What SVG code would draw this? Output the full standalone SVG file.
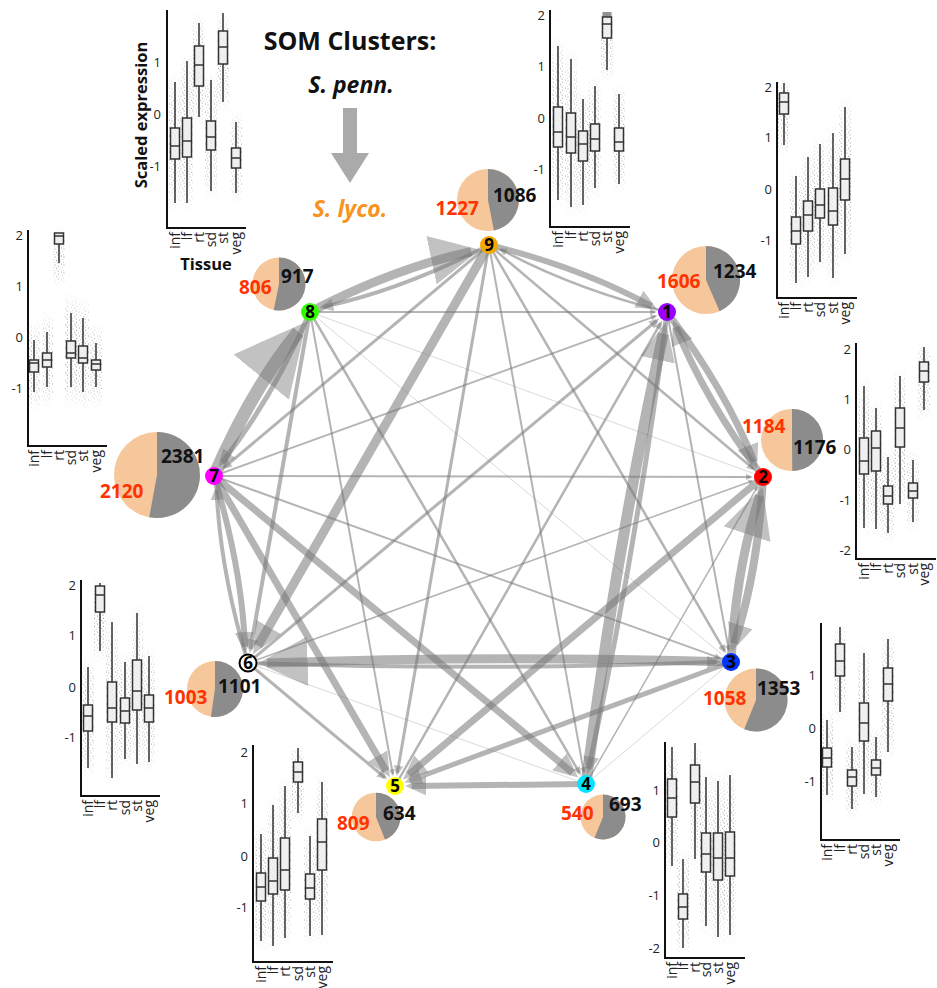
<svg xmlns="http://www.w3.org/2000/svg" width="937" height="988" viewBox="0 0 937 988">
<defs>
<style>
.e{fill:none;stroke:#777;stroke-opacity:.55}
.el{fill:none;stroke:#777;stroke-opacity:.28}
.ax{fill:none;stroke:#111;stroke-width:2}
.bx{fill:#eee;fill-opacity:.8;stroke:#333;stroke-width:1.5}
.wk{fill:none;stroke:#333;stroke-width:1.5}
.jt{fill:url(#jit);mask:url(#fade)}
.tk{font-family:"Open Sans","Liberation Sans",sans-serif;font-size:13px;fill:#222;text-anchor:end}
.xl{font-family:"Open Sans","Liberation Sans",sans-serif;font-size:14px;fill:#222;text-anchor:end}
.pk{fill:#F7C79C}
.pg{fill:#8C8C8C}
.nr{font-family:"Open Sans","Liberation Sans",sans-serif;font-weight:bold;font-size:19px;fill:#FF3300}
.nb{font-family:"Open Sans","Liberation Sans",sans-serif;font-weight:bold;font-size:19px;fill:#111}
.nl{font-family:"Open Sans","Liberation Sans",sans-serif;font-weight:bold;font-size:17px;fill:#000;text-anchor:middle}
.tt{font-family:"Open Sans","Liberation Sans",sans-serif;font-weight:bold;fill:#111;text-anchor:middle}
</style>
<pattern id="jit" width="9" height="8" patternUnits="userSpaceOnUse">
<circle cx="1" cy="1" r="0.5" fill="#444"/><circle cx="4.5" cy="2.2" r="0.5" fill="#444"/><circle cx="7.6" cy="0.6" r="0.45" fill="#444"/><circle cx="2.7" cy="4.3" r="0.5" fill="#444"/><circle cx="6.2" cy="4.9" r="0.45" fill="#444"/><circle cx="8.4" cy="3.4" r="0.4" fill="#444"/><circle cx="0.6" cy="6.6" r="0.45" fill="#444"/><circle cx="4.2" cy="7.1" r="0.5" fill="#444"/><circle cx="7.3" cy="7.4" r="0.4" fill="#444"/><circle cx="3.3" cy="5.9" r="0.35" fill="#444"/>
</pattern>
<linearGradient id="fg" x1="0" y1="0" x2="0" y2="1"><stop offset="0" stop-color="#fff" stop-opacity="0"/><stop offset=".2" stop-color="#fff" stop-opacity=".55"/><stop offset=".5" stop-color="#fff" stop-opacity=".8"/><stop offset=".8" stop-color="#fff" stop-opacity=".55"/><stop offset="1" stop-color="#fff" stop-opacity="0"/></linearGradient>
<mask id="fade" maskContentUnits="objectBoundingBox"><rect width="1" height="1" fill="url(#fg)"/></mask>
<marker id="ah" viewBox="0 0 10 10" refX="6.9" refY="5" markerWidth="3.5" markerHeight="3.2" preserveAspectRatio="none" orient="auto" markerUnits="strokeWidth"><path d="M0,0L10,5L0,10z" fill="#777" fill-opacity=".45"/></marker>
<marker id="ab" viewBox="0 0 10 10" refX="8.2" refY="5" markerWidth="5.5" markerHeight="5.5" preserveAspectRatio="none" orient="auto" markerUnits="strokeWidth"><path d="M0,0L10,5L0,10z" fill="#777" fill-opacity=".45"/></marker>
</defs>
<rect width="937" height="988" fill="#fff"/>

<g id="title">
<text class="tt" x="350" y="50" font-size="25">SOM Clusters:</text>
<text class="tt" x="351" y="93" font-size="23" font-style="italic">S. penn.</text>
<path d="M343,108H357V153H369L350,183L331,153H343Z" fill="#aaa"/>
<text class="tt" x="350" y="217" font-size="23" font-style="italic" style="fill:#F7931E">S. lyco.</text>
</g>

<g id="connectors">
<path class="e" stroke-width="9" marker-end="url(#ab)" d="M310,312Q395.5,267.7 471.2,251.7"/>
<path class="e" stroke-width="4" marker-end="url(#ah)" d="M489,245Q403.5,289.3 323.5,306.9"/>
<path class="e" stroke-width="6" marker-end="url(#ah)" d="M489,245Q582,267.8 651.5,306.2"/>
<path class="e" stroke-width="2.5" marker-end="url(#ah)" d="M667,312Q574,289.2 500.9,249.5"/>
<path class="e" stroke-width="2" marker-end="url(#ah)" d="M310,312L654.8,312"/>
<path class="e" stroke-width="13" marker-end="url(#ab)" d="M214,476Q252.2,388.2 298.4,331.8"/>
<path class="e" stroke-width="5" marker-end="url(#ah)" d="M310,312Q271.8,399.8 221.8,462.6"/>
<path class="e" stroke-width="7" marker-end="url(#ah)" d="M667,312Q724.9,388.7 754.1,461.7"/>
<path class="e" stroke-width="7" marker-end="url(#ah)" d="M763,477Q705.1,400.3 675.9,327.3"/>
<path class="e" stroke-width="8" marker-end="url(#ah)" d="M763,477Q758.1,571.4 734.2,643.5"/>
<path class="e" stroke-width="9" marker-end="url(#ab)" d="M731,662Q735.9,567.6 759.8,495.7"/>
<path class="e" stroke-width="9" marker-end="url(#ab)" d="M731,662Q489.5,655 267,663"/>
<path class="e" stroke-width="4" marker-end="url(#ah)" d="M248,663Q489.5,671 716.6,662"/>
<path class="e" stroke-width="6" marker-end="url(#ah)" d="M586,784L411.6,786"/>
<path class="e" stroke-width="11" marker-end="url(#ah)" d="M586,784Q616.6,546.3 663.3,333.8"/>
<path class="e" stroke-width="5" marker-end="url(#ah)" d="M667,312Q636.4,549.7 588.6,768.7"/>
<path class="e" stroke-width="7" marker-end="url(#ah)" d="M763,477L408.6,774.6"/>
<path class="e" stroke-width="5" marker-end="url(#ah)" d="M731,662L409.5,780.6"/>
<path class="e" stroke-width="7" marker-end="url(#ah)" d="M214,476L572.4,772.7"/>
<path class="e" stroke-width="7" marker-end="url(#ah)" d="M214,476L386.1,770.7"/>
<path class="e" stroke-width="9" marker-end="url(#ah)" d="M489,245L257.9,645.8"/>
<path class="e" stroke-width="6" marker-end="url(#ah)" d="M214,476Q241.8,567.5 245,646.7"/>
<path class="e" stroke-width="4" marker-end="url(#ah)" d="M248,663Q220.2,571.5 216.6,490.2"/>
<path class="e" stroke-width="4" marker-end="url(#ah)" d="M310,312L250.5,648.8"/>
<path class="e" stroke-width="3" marker-end="url(#ah)" d="M489,245L397.3,772.9"/>
<path class="e" stroke-width="2" marker-end="url(#ah)" d="M489,245L583.8,772"/>
<path class="e" stroke-width="2.5" marker-end="url(#ah)" d="M489,245L724.6,651"/>
<path class="e" stroke-width="2.5" marker-end="url(#ah)" d="M489,245L753.3,468.8"/>
<path class="e" stroke-width="3" marker-end="url(#ah)" d="M489,245L224.2,467.4"/>
<path class="e" stroke-width="2" marker-end="url(#ah)" d="M310,312L392.8,774"/>
<path class="e" stroke-width="2.5" marker-end="url(#ah)" d="M310,312L579.6,773"/>
<path class="el" stroke-width="1" d="M310,312L722.5,655"/>
<path class="el" stroke-width="1" d="M310,312L752.7,473.2"/>
<path class="e" stroke-width="2" marker-end="url(#ah)" d="M214,476L655.5,316.1"/>
<path class="e" stroke-width="2" marker-end="url(#ah)" d="M214,476L750.8,477"/>
<path class="e" stroke-width="2" marker-end="url(#ah)" d="M214,476L719.5,657.9"/>
<path class="e" stroke-width="3" marker-end="url(#ah)" d="M248,663L656.8,320.5"/>
<path class="e" stroke-width="1.5" marker-end="url(#ah)" d="M248,663L752,481"/>
<path class="el" stroke-width="1" d="M248,663L575.6,780.3"/>
<path class="e" stroke-width="3" marker-end="url(#ah)" d="M248,663L384.8,777.5"/>
<path class="e" stroke-width="2.5" marker-end="url(#ah)" d="M395,786L660.7,323.1"/>
<path class="e" stroke-width="2" marker-end="url(#ah)" d="M667,312L728.8,650"/>
<path class="e" stroke-width="1.5" marker-end="url(#ah)" d="M586,784L757.2,487.1"/>
<path class="el" stroke-width="1" d="M586,784L722.6,669.1"/>
</g>

<g id="node-8">
<g id="panel-8">
<rect class="jt" x="169" y="70" width="12" height="145"/><rect class="jt" x="181" y="49" width="12" height="166"/><rect class="jt" x="193" y="11" width="12" height="118"/><rect class="jt" x="205" y="68" width="12" height="135"/><rect class="jt" x="217" y="9" width="12" height="105"/><rect class="jt" x="230" y="110" width="12" height="95"/>
<rect class="bx" x="170.5" y="128" width="9" height="31"/><path class="wk" d="M175,82V128M175,159V203M170.5,146h9"/>
<rect class="bx" x="182.5" y="118" width="9" height="39"/><path class="wk" d="M187,61V118M187,157V203M182.5,141h9"/>
<rect class="bx" x="194.5" y="46" width="9" height="40"/><path class="wk" d="M199,23V46M199,86V117M194.5,65h9"/>
<rect class="bx" x="206.5" y="121" width="9" height="29"/><path class="wk" d="M211,80V121M211,150V191M206.5,137h9"/>
<rect class="bx" x="218.5" y="31" width="9" height="33"/><path class="wk" d="M223,13V31M223,64V102M218.5,47h9"/>
<rect class="bx" x="231.5" y="148" width="9" height="20"/><path class="wk" d="M236,122V148M236,168V193M231.5,158h9"/>
<path class="ax" d="M167,10V228H246"/>
<text class="tk" x="161" y="66.5">1</text><text class="tk" x="161" y="118.5">0</text><text class="tk" x="161" y="170.5">-1</text>
<text class="xl" transform="translate(179.5,232) rotate(-90)">inf</text><text class="xl" transform="translate(191.5,232) rotate(-90)">lf</text><text class="xl" transform="translate(203.5,232) rotate(-90)">rt</text><text class="xl" transform="translate(215.5,232) rotate(-90)">sd</text><text class="xl" transform="translate(227.5,232) rotate(-90)">st</text><text class="xl" transform="translate(240.5,232) rotate(-90)">veg</text>
<text class="tt" font-size="16.5" transform="translate(147,115) rotate(-90)">Scaled expression</text>
<text class="tt" x="206" y="270" font-size="16.5">Tissue</text>
</g>
<circle class="pk" cx="279" cy="284" r="26.6"/><path class="pg" d="M279,284L279,257.4A26.6,26.6 0 1 1 273.7,310.1Z"/>
<text class="nr" x="239" y="294">806</text><text class="nb" x="281" y="283">917</text>
<circle cx="310" cy="312" r="9" fill="#33FF00"/><text class="nl" x="310" y="318">8</text>
</g>

<g id="node-7">
<g id="panel-7">
<rect class="jt" x="28" y="318" width="12" height="96"/><rect class="jt" x="41" y="310" width="12" height="99"/><rect class="jt" x="53" y="227" width="12" height="60"/><rect class="jt" x="65" y="291" width="12" height="118"/><rect class="jt" x="77" y="296" width="12" height="118"/><rect class="jt" x="90" y="321" width="12" height="88"/>
<rect class="bx" x="29.5" y="360" width="9" height="12"/><path class="wk" d="M34,340V360M34,372V392M29.5,363h9"/>
<rect class="bx" x="42.5" y="353" width="9" height="14"/><path class="wk" d="M47,332V353M47,367V387M42.5,360h9"/>
<rect class="bx" x="54.5" y="233" width="9" height="11"/><path class="wk" d="M59,244V263M54.5,236h9"/>
<rect class="bx" x="66.5" y="341" width="9" height="17"/><path class="wk" d="M71,313V341M71,358V387M66.5,353h9"/>
<rect class="bx" x="78.5" y="346" width="9" height="17"/><path class="wk" d="M83,318V346M83,363V392M78.5,358h9"/>
<rect class="bx" x="91.5" y="360" width="9" height="10"/><path class="wk" d="M96,343V360M96,370V387M91.5,364h9"/>
<path class="ax" d="M28,230V446H107"/>
<text class="tk" x="23" y="239.5">2</text><text class="tk" x="23" y="290.5">1</text><text class="tk" x="23" y="341.5">0</text><text class="tk" x="23" y="392.5">-1</text>
<text class="xl" transform="translate(38.5,450) rotate(-90)">inf</text><text class="xl" transform="translate(51.5,450) rotate(-90)">lf</text><text class="xl" transform="translate(63.5,450) rotate(-90)">rt</text><text class="xl" transform="translate(75.5,450) rotate(-90)">sd</text><text class="xl" transform="translate(87.5,450) rotate(-90)">st</text><text class="xl" transform="translate(100.5,450) rotate(-90)">veg</text>
</g>
<circle class="pk" cx="157" cy="475" r="43"/><path class="pg" d="M157,475L157,432A43,43 0 1 1 149.2,517.3Z"/>
<text class="nr" x="100" y="498">2120</text><text class="nb" x="161" y="463">2381</text>
<circle cx="214" cy="476" r="9" fill="#FF00FF"/><text class="nl" x="214" y="482">7</text>
</g>

<g id="node-9">
<g id="panel-9">
<rect class="jt" x="552" y="34" width="12" height="178"/><rect class="jt" x="565" y="47" width="12" height="172"/><rect class="jt" x="577" y="87" width="12" height="130"/><rect class="jt" x="589" y="74" width="12" height="126"/><rect class="jt" x="601" y="7" width="12" height="75"/><rect class="jt" x="613" y="82" width="12" height="114"/>
<rect class="bx" x="553.5" y="107" width="9" height="40"/><path class="wk" d="M558,46V107M558,147V200M553.5,132h9"/>
<rect class="bx" x="566.5" y="113" width="9" height="40"/><path class="wk" d="M571,59V113M571,153V207M566.5,137h9"/>
<rect class="bx" x="578.5" y="131" width="9" height="30"/><path class="wk" d="M583,99V131M583,161V205M578.5,144h9"/>
<rect class="bx" x="590.5" y="124" width="9" height="27"/><path class="wk" d="M595,86V124M595,151V188M590.5,139h9"/>
<rect x="602.5" y="12" width="9" height="5" fill="#666" opacity=".7"/>
<rect class="bx" x="602.5" y="17" width="9" height="21"/><path class="wk" d="M607,38V70M602.5,24h9"/>
<rect class="bx" x="614.5" y="128" width="9" height="23"/><path class="wk" d="M619,94V128M619,151V184M614.5,142h9"/>
<path class="ax" d="M550,10V227H630"/>
<text class="tk" x="545" y="19.5">2</text><text class="tk" x="545" y="70.5">1</text><text class="tk" x="545" y="122.5">0</text><text class="tk" x="545" y="173.5">-1</text>
<text class="xl" transform="translate(562.5,231) rotate(-90)">inf</text><text class="xl" transform="translate(575.5,231) rotate(-90)">lf</text><text class="xl" transform="translate(587.5,231) rotate(-90)">rt</text><text class="xl" transform="translate(599.5,231) rotate(-90)">sd</text><text class="xl" transform="translate(611.5,231) rotate(-90)">st</text><text class="xl" transform="translate(623.5,231) rotate(-90)">veg</text>
</g>
<circle class="pk" cx="488" cy="200" r="31"/><path class="pg" d="M488,200L488,169A31,31 0 0 1 493.9,230.4Z"/>
<text class="nr" x="479" y="215" text-anchor="end">1227</text><text class="nb" x="493" y="202">1086</text>
<circle cx="489" cy="245" r="9" fill="#F5A800"/><text class="nl" x="489" y="251">9</text>
</g>

<g id="node-1">
<g id="panel-1">
<rect class="jt" x="778" y="77" width="12" height="80"/><rect class="jt" x="790" y="164" width="12" height="131"/><rect class="jt" x="802" y="145" width="12" height="144"/><rect class="jt" x="814" y="132" width="12" height="142"/><rect class="jt" x="827" y="121" width="12" height="169"/><rect class="jt" x="839" y="95" width="12" height="171"/>
<rect class="bx" x="779.5" y="93" width="9" height="21"/><path class="wk" d="M784,83V93M784,114V145M779.5,102h9"/>
<rect class="bx" x="791.5" y="217" width="9" height="27"/><path class="wk" d="M796,176V217M796,244V283M791.5,231h9"/>
<rect class="bx" x="803.5" y="201" width="9" height="30"/><path class="wk" d="M808,157V201M808,231V277M803.5,215h9"/>
<rect class="bx" x="815.5" y="189" width="9" height="29"/><path class="wk" d="M820,144V189M820,218V262M815.5,205h9"/>
<rect class="bx" x="828.5" y="188" width="9" height="37"/><path class="wk" d="M833,133V188M833,225V278M828.5,211h9"/>
<rect class="bx" x="840.5" y="159" width="9" height="41"/><path class="wk" d="M845,107V159M845,200V254M840.5,179h9"/>
<path class="ax" d="M777,82V298H857"/>
<text class="tk" x="772" y="91.5">2</text><text class="tk" x="772" y="141.5">1</text><text class="tk" x="772" y="193.5">0</text><text class="tk" x="772" y="244.5">-1</text>
<text class="xl" transform="translate(788.5,302) rotate(-90)">inf</text><text class="xl" transform="translate(800.5,302) rotate(-90)">lf</text><text class="xl" transform="translate(812.5,302) rotate(-90)">rt</text><text class="xl" transform="translate(824.5,302) rotate(-90)">sd</text><text class="xl" transform="translate(837.5,302) rotate(-90)">st</text><text class="xl" transform="translate(849.5,302) rotate(-90)">veg</text>
</g>
<circle class="pk" cx="706" cy="280" r="34"/><path class="pg" d="M706,280L706,246A34,34 0 0 1 719.6,311.2Z"/>
<text class="nr" x="657" y="288">1606</text><text class="nb" x="713" y="278">1234</text>
<circle cx="667" cy="312" r="9" fill="#9900FF"/><text class="nl" x="667" y="318">1</text>
</g>

<g id="node-2">
<g id="panel-2">
<rect class="jt" x="858" y="374" width="12" height="166"/><rect class="jt" x="870" y="396" width="12" height="145"/><rect class="jt" x="882" y="445" width="12" height="100"/><rect class="jt" x="894" y="364" width="12" height="152"/><rect class="jt" x="907" y="448" width="12" height="86"/><rect class="jt" x="918" y="341" width="12" height="81"/>
<rect class="bx" x="859.5" y="438" width="9" height="36"/><path class="wk" d="M864,386V438M864,474V528M859.5,461h9"/>
<rect class="bx" x="871.5" y="431" width="9" height="40"/><path class="wk" d="M876,408V431M876,471V529M871.5,448h9"/>
<rect class="bx" x="883.5" y="486" width="9" height="18"/><path class="wk" d="M888,457V486M888,504V533M883.5,496h9"/>
<rect class="bx" x="895.5" y="408" width="9" height="39"/><path class="wk" d="M900,376V408M900,447V504M895.5,428h9"/>
<rect class="bx" x="908.5" y="483" width="9" height="15"/><path class="wk" d="M913,460V483M913,498V522M908.5,491h9"/>
<rect class="bx" x="919.5" y="362" width="9" height="20"/><path class="wk" d="M924,347V362M924,382V410M919.5,371h9"/>
<path class="ax" d="M856,343V559H936"/>
<text class="tk" x="851" y="353.5">2</text><text class="tk" x="851" y="403.5">1</text><text class="tk" x="851" y="453.5">0</text><text class="tk" x="851" y="504.5">-1</text><text class="tk" x="851" y="554.5">-2</text>
<text class="xl" transform="translate(868.5,563) rotate(-90)">inf</text><text class="xl" transform="translate(880.5,563) rotate(-90)">lf</text><text class="xl" transform="translate(892.5,563) rotate(-90)">rt</text><text class="xl" transform="translate(904.5,563) rotate(-90)">sd</text><text class="xl" transform="translate(917.5,563) rotate(-90)">st</text><text class="xl" transform="translate(928.5,563) rotate(-90)">veg</text>
</g>
<circle class="pk" cx="792" cy="440" r="31"/><path class="pg" d="M792,440L792,409A31,31 0 0 1 792.3,471Z"/>
<text class="nr" x="742" y="433">1184</text><text class="nb" x="793" y="454">1176</text>
<circle cx="763" cy="477" r="9" fill="#FF0000"/><text class="nl" x="763" y="483">2</text>
</g>

<g id="node-3">
<g id="panel-3">
<rect class="jt" x="821" y="708" width="12" height="99"/><rect class="jt" x="834" y="621" width="12" height="103"/><rect class="jt" x="846" y="735" width="12" height="86"/><rect class="jt" x="858" y="641" width="12" height="165"/><rect class="jt" x="870" y="725" width="12" height="84"/><rect class="jt" x="882" y="627" width="12" height="137"/>
<rect class="bx" x="822.5" y="748" width="9" height="19"/><path class="wk" d="M827,720V748M827,767V795M822.5,758h9"/>
<rect class="bx" x="835.5" y="644" width="9" height="32"/><path class="wk" d="M840,627V644M840,676V712M835.5,661h9"/>
<rect class="bx" x="847.5" y="770" width="9" height="16"/><path class="wk" d="M852,747V770M852,786V809M847.5,777h9"/>
<rect class="bx" x="859.5" y="703" width="9" height="38"/><path class="wk" d="M864,653V703M864,741V794M859.5,723h9"/>
<rect class="bx" x="871.5" y="760" width="9" height="15"/><path class="wk" d="M876,737V760M876,775V797M871.5,768h9"/>
<rect class="bx" x="883.5" y="668" width="9" height="33"/><path class="wk" d="M888,639V668M888,701V752M883.5,684h9"/>
<path class="ax" d="M821,623V840H900"/>
<text class="tk" x="816" y="679.5">1</text><text class="tk" x="816" y="732.5">0</text><text class="tk" x="816" y="785.5">-1</text>
<text class="xl" transform="translate(831.5,844) rotate(-90)">inf</text><text class="xl" transform="translate(844.5,844) rotate(-90)">lf</text><text class="xl" transform="translate(856.5,844) rotate(-90)">rt</text><text class="xl" transform="translate(868.5,844) rotate(-90)">sd</text><text class="xl" transform="translate(880.5,844) rotate(-90)">st</text><text class="xl" transform="translate(892.5,844) rotate(-90)">veg</text>
</g>
<circle class="pk" cx="756" cy="700" r="31.5"/><path class="pg" d="M756,700L756,668.5A31.5,31.5 0 1 1 744.2,729.2Z"/>
<text class="nr" x="703" y="705">1058</text><text class="nb" x="757" y="695">1353</text>
<circle cx="731" cy="662" r="9" fill="#0033FF"/><text class="nl" x="731" y="668">3</text>
</g>

<g id="node-4">
<g id="panel-4">
<rect class="jt" x="666" y="741" width="12" height="137"/><rect class="jt" x="677" y="847" width="12" height="110"/><rect class="jt" x="689" y="737" width="12" height="134"/><rect class="jt" x="700" y="765" width="12" height="173"/><rect class="jt" x="712" y="769" width="12" height="180"/><rect class="jt" x="724" y="763" width="12" height="184"/>
<rect class="bx" x="667.5" y="779" width="9" height="38"/><path class="wk" d="M672,747V779M672,817V866M667.5,798h9"/>
<rect class="bx" x="678.5" y="894" width="9" height="25"/><path class="wk" d="M683,859V894M683,919V948M678.5,907h9"/>
<rect class="bx" x="690.5" y="765" width="9" height="38"/><path class="wk" d="M695,743V765M695,803V859M690.5,782h9"/>
<rect class="bx" x="701.5" y="833" width="9" height="39"/><path class="wk" d="M706,777V833M706,872V926M701.5,854h9"/>
<rect class="bx" x="713.5" y="833" width="9" height="47"/><path class="wk" d="M718,781V833M718,880V937M713.5,858h9"/>
<rect class="bx" x="725.5" y="832" width="9" height="44"/><path class="wk" d="M730,775V832M730,876V935M725.5,858h9"/>
<path class="ax" d="M665,742V958H745"/>
<text class="tk" x="660" y="794.5">1</text><text class="tk" x="660" y="846.5">0</text><text class="tk" x="660" y="899.5">-1</text><text class="tk" x="660" y="952.5">-2</text>
<text class="xl" transform="translate(676.5,962) rotate(-90)">inf</text><text class="xl" transform="translate(687.5,962) rotate(-90)">lf</text><text class="xl" transform="translate(699.5,962) rotate(-90)">rt</text><text class="xl" transform="translate(710.5,962) rotate(-90)">sd</text><text class="xl" transform="translate(722.5,962) rotate(-90)">st</text><text class="xl" transform="translate(734.5,962) rotate(-90)">veg</text>
</g>
<circle class="pk" cx="603" cy="817" r="22.5"/><path class="pg" d="M603,817L603,794.5A22.5,22.5 0 1 1 594.5,837.8Z"/>
<text class="nr" x="561" y="820">540</text><text class="nb" x="609" y="811">693</text>
<circle cx="586" cy="784" r="9" fill="#00E5FF"/><text class="nl" x="586" y="790">4</text>
</g>

<g id="node-5">
<g id="panel-5">
<rect class="jt" x="255" y="822" width="12" height="131"/><rect class="jt" x="267" y="793" width="12" height="165"/><rect class="jt" x="279" y="774" width="12" height="176"/><rect class="jt" x="292" y="742" width="12" height="83"/><rect class="jt" x="304" y="824" width="12" height="124"/><rect class="jt" x="316" y="770" width="12" height="177"/>
<rect class="bx" x="256.5" y="873" width="9" height="28"/><path class="wk" d="M261,834V873M261,901V941M256.5,887h9"/>
<rect class="bx" x="268.5" y="858" width="9" height="36"/><path class="wk" d="M273,805V858M273,894V946M268.5,881h9"/>
<rect class="bx" x="280.5" y="838" width="9" height="52"/><path class="wk" d="M285,786V838M285,890V938M280.5,870h9"/>
<rect class="bx" x="293.5" y="762" width="9" height="20"/><path class="wk" d="M298,748V762M298,782V813M293.5,772h9"/>
<rect class="bx" x="305.5" y="874" width="9" height="25"/><path class="wk" d="M310,836V874M310,899V936M305.5,888h9"/>
<rect class="bx" x="317.5" y="819" width="9" height="51"/><path class="wk" d="M322,782V819M322,870V935M317.5,842h9"/>
<path class="ax" d="M253,745V962H333"/>
<text class="tk" x="248" y="756.5">2</text><text class="tk" x="248" y="807.5">1</text><text class="tk" x="248" y="860.5">0</text><text class="tk" x="248" y="911.5">-1</text>
<text class="xl" transform="translate(265.5,966) rotate(-90)">inf</text><text class="xl" transform="translate(277.5,966) rotate(-90)">lf</text><text class="xl" transform="translate(289.5,966) rotate(-90)">rt</text><text class="xl" transform="translate(302.5,966) rotate(-90)">sd</text><text class="xl" transform="translate(314.5,966) rotate(-90)">st</text><text class="xl" transform="translate(326.5,966) rotate(-90)">veg</text>
</g>
<circle class="pk" cx="376" cy="817" r="24.3"/><path class="pg" d="M376,817L376,792.7A24.3,24.3 0 0 1 385,839.6Z"/>
<text class="nr" x="337" y="830">809</text><text class="nb" x="383" y="820">634</text>
<circle cx="395" cy="786" r="9" fill="#FFFF00"/><text class="nl" x="395" y="792">5</text>
</g>

<g id="node-6">
<g id="panel-6">
<rect class="jt" x="82" y="655" width="12" height="125"/><rect class="jt" x="94" y="577" width="12" height="86"/><rect class="jt" x="106" y="610" width="12" height="180"/><rect class="jt" x="119" y="650" width="12" height="121"/><rect class="jt" x="131" y="601" width="12" height="175"/><rect class="jt" x="143" y="644" width="12" height="130"/>
<rect class="bx" x="83.5" y="705" width="9" height="26"/><path class="wk" d="M88,667V705M88,731V768M83.5,716h9"/>
<rect class="bx" x="95.5" y="586" width="9" height="26"/><path class="wk" d="M100,583V586M100,612V651M95.5,595h9"/>
<rect class="bx" x="107.5" y="682" width="9" height="40"/><path class="wk" d="M112,622V682M112,722V778M107.5,708h9"/>
<rect class="bx" x="120.5" y="698" width="9" height="25"/><path class="wk" d="M125,662V698M125,723V759M120.5,711h9"/>
<rect class="bx" x="132.5" y="660" width="9" height="50"/><path class="wk" d="M137,613V660M137,710V764M132.5,691h9"/>
<rect class="bx" x="144.5" y="695" width="9" height="27"/><path class="wk" d="M149,656V695M149,722V762M144.5,708h9"/>
<path class="ax" d="M81,580V796H160"/>
<text class="tk" x="76" y="589.5">2</text><text class="tk" x="76" y="639.5">1</text><text class="tk" x="76" y="691.5">0</text><text class="tk" x="76" y="741.5">-1</text>
<text class="xl" transform="translate(92.5,800) rotate(-90)">inf</text><text class="xl" transform="translate(104.5,800) rotate(-90)">lf</text><text class="xl" transform="translate(116.5,800) rotate(-90)">rt</text><text class="xl" transform="translate(129.5,800) rotate(-90)">sd</text><text class="xl" transform="translate(141.5,800) rotate(-90)">st</text><text class="xl" transform="translate(153.5,800) rotate(-90)">veg</text>
</g>
<circle class="pk" cx="215" cy="689" r="28"/><path class="pg" d="M215,689L215,661A28,28 0 1 1 210.9,716.7Z"/>
<text class="nr" x="164" y="704">1003</text><text class="nb" x="218" y="693">1101</text>
<circle cx="248" cy="663" r="8.5" fill="#fff" stroke="#000" stroke-width="2"/><text class="nl" x="248" y="669">6</text>
</g>
</svg>
